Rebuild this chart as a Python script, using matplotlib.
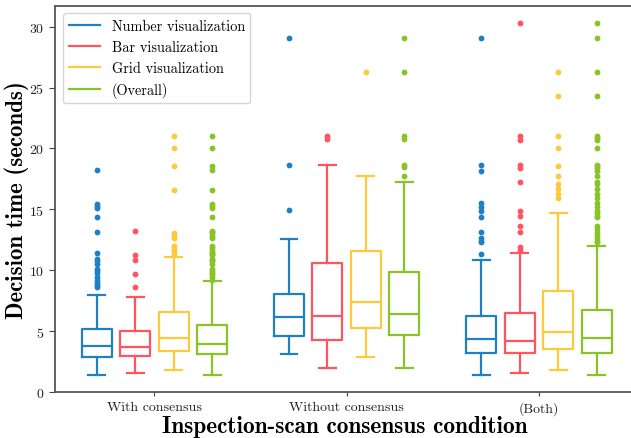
import matplotlib
matplotlib.use("Agg")
import matplotlib.pyplot as plt
import numpy as np

plt.rcParams['font.family'] = 'cmr10'
plt.rcParams['axes.formatter.use_mathtext'] = True

groups = ['With consensus', 'Without consensus', '(Both)']
series = ['Number visualization', 'Bar visualization', 'Grid visualization', '(Overall)']
colors = ['#1f80c6', '#ff5560', '#ffc93c', '#88c425']

# box summaries per series, one value per group
whislo = [[1.42, 3.18, 1.42], [1.56, 2.03, 1.56], [1.83, 2.90, 1.83], [1.42, 2.03, 1.42]]
q1 = [[2.90, 4.58, 3.20], [2.96, 4.33, 3.20], [3.39, 5.26, 3.53], [3.18, 4.68, 3.26]]
med = [[3.80, 6.14, 4.35], [3.70, 6.28, 4.21], [4.44, 7.42, 4.95], [4.00, 6.41, 4.49]]
q3 = [[5.18, 8.05, 6.27], [5.04, 10.62, 6.49], [6.60, 11.61, 8.27], [5.53, 9.84, 6.76]]
whishi = [[7.97, 12.60, 10.85], [7.79, 18.65, 11.42], [11.12, 17.77, 14.71], [9.14, 17.28, 11.98]]

fliers = [
    [  # number
        [18.26, 15.45, 15.29, 15.12, 14.35, 13.18, 11.40, 10.95, 10.75, 10.55, 10.1, 9.95, 9.8,
         9.45, 9.25, 9.0, 8.8, 8.6],
        [29.09, 18.68, 14.95],
        [29.09, 18.67, 18.18, 15.5, 15.2, 14.9, 14.35, 13.17, 12.66, 12.45, 12.3, 11.35],
    ],
    [  # bar
        [13.26, 11.29, 10.85, 9.7, 8.61],
        [21.06, 20.8],
        [30.3, 21.05, 20.7, 18.67, 18.38, 17.28, 14.85, 14.49, 13.67, 13.17, 11.9, 11.67],
    ],
    [  # grid
        [21.0, 20.0, 18.56, 16.62, 13.04, 12.85, 12.66, 12.03, 11.8, 11.6, 11.35],
        [26.27],
        [26.27, 24.3, 21.0, 20.0, 18.56, 17.77, 17.09, 16.68, 16.3, 15.94],
    ],
    [  # overall
        [21.0, 20.0, 18.56, 18.26, 16.62, 15.45, 15.29, 15.12, 14.35, 13.26, 13.18, 13.04, 12.85,
         12.66, 12.03, 11.8, 11.6, 11.40, 11.35, 11.29, 10.95, 10.85, 10.75, 10.55, 10.1, 9.95,
         9.8, 9.7, 9.45, 9.25],
        [29.09, 26.27, 21.06, 20.8, 18.68, 18.5, 17.77],
        [30.3, 29.09, 26.27, 24.3, 21.05, 20.9, 20.7, 20.0, 18.67, 18.56, 18.38, 18.18, 17.77,
         17.28, 17.09, 16.68, 16.3, 15.94, 15.5, 15.2, 14.9, 14.7, 14.49, 14.35, 13.67, 13.4,
         13.17, 12.9, 12.66, 12.45, 12.3],
    ],
]

fig = plt.figure(figsize=(6.31, 4.39), dpi=100)
ax = fig.add_axes([55 / 631, 45.7 / 439, 580 / 631, 386.8 / 439])

x = np.arange(len(groups))
offsets = [-0.3, -0.1, 0.1, 0.3]
for i, name in enumerate(series):
    stats = []
    for g in range(len(groups)):
        stats.append(dict(whislo=whislo[i][g], q1=q1[i][g], med=med[i][g], q3=q3[i][g],
                          whishi=whishi[i][g], fliers=fliers[i][g]))
    c = colors[i]
    line = dict(color=c, linewidth=1.6)
    ax.bxp(stats, positions=x + offsets[i], widths=0.156, capwidths=0.088,
           boxprops=line, whiskerprops=line, capprops=line, medianprops=line,
           flierprops=dict(marker='o', markerfacecolor=c, markeredgecolor='none', markersize=4.2),
           manage_ticks=False)
    ax.plot([], [], color=c, linewidth=1.6, label=name)

ax.set_xlim(-0.517, 2.5)
ax.set_ylim(0, 31.73)
ax.set_xticks(x)
ax.set_xticklabels(groups, fontsize=10, color='#222222')
ax.set_yticks([0, 5, 10, 15, 20, 25, 30])
ax.tick_params(axis='y', labelsize=10, labelcolor='#222222', length=4, color='#444444')
ax.tick_params(axis='x', length=3, color='#444444')
for s in ['left', 'bottom', 'top']:
    ax.spines[s].set_color('#555555')
    ax.spines[s].set_linewidth(1.3)
ax.spines['right'].set_visible(False)

ax.set_ylabel('Decision time (seconds)', fontfamily='cmb10', fontsize=16.5, labelpad=0.5)
ax.set_xlabel('Inspection-scan consensus condition', fontfamily='cmb10', fontsize=16.8, labelpad=0)

leg = ax.legend(loc='upper left', fontsize=10.3, handlelength=2.2, borderaxespad=0.55)
leg.get_frame().set_edgecolor('#cccccc')

fig.savefig('out.png', dpi=100)
